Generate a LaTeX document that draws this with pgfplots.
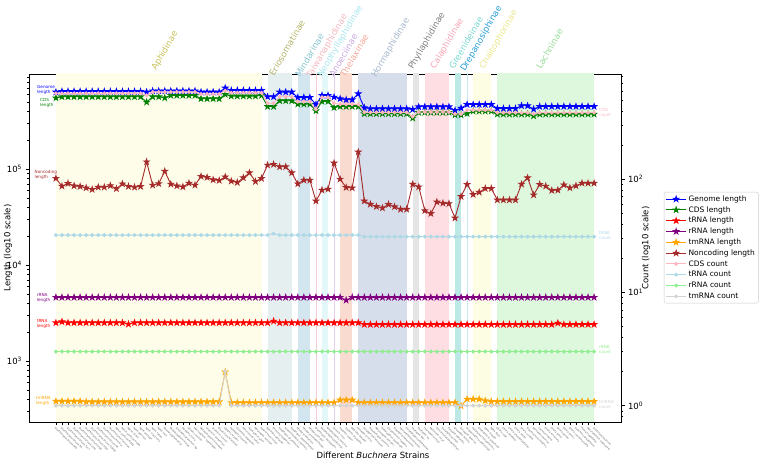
\documentclass[border=0pt]{standalone}
\usepackage{pgfplots}
\pgfplotsset{compat=1.18}
\usepackage{pgfplotstable}
\usepackage{fontspec}
\setmainfont{DejaVu Sans}

% series colours
\definecolor{cGenome}{HTML}{0000FF}
\definecolor{cCDS}{HTML}{008000}
\definecolor{cTRNA}{HTML}{FF0000}
\definecolor{cRRNA}{HTML}{800080}
\definecolor{cTMRNA}{HTML}{FFA500}
\definecolor{cNonc}{HTML}{A52A2A}
\definecolor{cCDSc}{HTML}{FFB6C1}
\definecolor{cTRNAc}{HTML}{ADD8E6}
\definecolor{cRRNAc}{HTML}{90EE90}
\definecolor{cTMRNAc}{HTML}{D3D3D3}

% subfamily shading and label colours
\definecolor{bAph}{HTML}{FDFDE9}\definecolor{tAph}{HTML}{C8C25A}
\definecolor{bEri}{HTML}{E5EFEF}\definecolor{tEri}{HTML}{B4B46C}
\definecolor{bMin}{HTML}{D3E6EF}\definecolor{tMin}{HTML}{88C4D0}
\definecolor{bTai}{HTML}{F6CCD4}\definecolor{tTai}{HTML}{F2B8C0}
\definecolor{bNeo}{HTML}{E4F8FA}\definecolor{tNeo}{HTML}{A8E6EE}
\definecolor{bAno}{HTML}{E6CCEE}\definecolor{tAno}{HTML}{C8A8E0}
\definecolor{bThe}{HTML}{FADBD0}\definecolor{tThe}{HTML}{F4A898}
\definecolor{bHor}{HTML}{D5DEEA}\definecolor{tHor}{HTML}{A8B8CE}
\definecolor{bPhy}{HTML}{E5E5E5}\definecolor{tPhy}{HTML}{808080}
\definecolor{bCal}{HTML}{FEDDE3}\definecolor{tCal}{HTML}{F5A5B5}
\definecolor{bGre}{HTML}{BCE8E6}\definecolor{tGre}{HTML}{78D8D0}
\definecolor{bDre}{HTML}{C8E8F4}\definecolor{tDre}{HTML}{2A9FD6}
\definecolor{bCha}{HTML}{FDFDE3}\definecolor{tCha}{HTML}{EAE68A}
\definecolor{bLac}{HTML}{DDF8DD}\definecolor{tLac}{HTML}{98DC98}

% filled five-pointed star marker
\pgfdeclareplotmark{fstar}{%
  \pgfpathmoveto{\pgfqpoint{0pt}{\pgfplotmarksize}}%
  \pgfpathlineto{\pgfqpoint{-0.2245\pgfplotmarksize}{0.309\pgfplotmarksize}}%
  \pgfpathlineto{\pgfqpoint{-0.951\pgfplotmarksize}{0.309\pgfplotmarksize}}%
  \pgfpathlineto{\pgfqpoint{-0.363\pgfplotmarksize}{-0.118\pgfplotmarksize}}%
  \pgfpathlineto{\pgfqpoint{-0.588\pgfplotmarksize}{-0.809\pgfplotmarksize}}%
  \pgfpathlineto{\pgfqpoint{0pt}{-0.382\pgfplotmarksize}}%
  \pgfpathlineto{\pgfqpoint{0.588\pgfplotmarksize}{-0.809\pgfplotmarksize}}%
  \pgfpathlineto{\pgfqpoint{0.363\pgfplotmarksize}{-0.118\pgfplotmarksize}}%
  \pgfpathlineto{\pgfqpoint{0.951\pgfplotmarksize}{0.309\pgfplotmarksize}}%
  \pgfpathlineto{\pgfqpoint{0.2245\pgfplotmarksize}{0.309\pgfplotmarksize}}%
  \pgfpathclose\pgfusepathqfillstroke}

% i: strain index; lengths in bp; counts
\pgfplotstableread{
i g c tl rl tml nc cc tc rc tmc
0 635000 552000 2500 4600 380 80000 570 32 3 1
1 644000 567000 2560 4600 380 66400 570 32 3 1
2 644000 567000 2500 4600 380 70800 570 32 3 1
3 644000 567000 2500 4600 380 66900 570 32 3 1
4 644000 567000 2500 4600 380 65900 570 32 3 1
5 644000 567000 2500 4600 375 63700 570 32 3 1
6 644000 567000 2500 4600 375 61300 570 32 3 1
7 644000 567000 2500 4600 375 64800 570 32 3 1
8 644000 567000 2500 4600 375 64800 570 32 3 1
9 644000 567000 2500 4600 375 67200 570 32 3 1
10 644000 567000 2500 4600 375 62500 570 32 3 1
11 644000 567000 2500 4600 375 70200 570 32 3 1
12 644000 567000 2420 4600 375 66000 570 32 3 1
13 644000 567000 2500 4600 375 64800 570 32 3 1
14 644000 567000 2500 4600 375 65900 570 32 3 1
15 635000 499000 2500 4600 375 119000 548 32 3 1
16 652000 567000 2500 4600 375 68000 586 32 3 1
17 652000 567000 2500 4600 375 70500 586 32 3 1
18 652000 553000 2500 4600 375 94900 586 32 3 1
19 652000 586000 2500 4600 375 69600 586 32 3 1
20 652000 586000 2500 4600 375 66900 586 32 3 1
21 652000 586000 2500 4600 375 65300 586 32 3 1
22 652000 586000 2500 4600 375 71300 586 32 3 1
23 652000 586000 2500 4600 375 68000 586 32 3 1
24 635000 541000 2500 4600 375 83900 563 32 3 1
25 635000 541000 2500 4600 375 81900 563 32 3 1
26 635000 541000 2500 4600 375 77300 563 32 3 1
27 635000 541000 2500 4600 375 76100 563 32 3 1
28 700000 600000 2500 4600 767 83000 601 32 3 2
29 661000 577000 2500 4600 368 74900 578 32 3 1
30 661000 577000 2500 4600 368 72600 578 32 3 1
31 661000 577000 2500 4600 368 81100 578 32 3 1
32 661000 577000 2500 4600 368 91500 578 32 3 1
33 661000 577000 2500 4600 368 74300 578 32 3 1
34 661000 586000 2500 4600 368 79900 578 32 3 1
35 567000 449000 2500 4600 368 110100 466 32 3 1
36 567000 449000 2600 4600 368 112000 466 33 3 1
37 635000 515000 2500 4600 368 105700 532 32 3 1
38 635000 515000 2500 4600 368 105700 532 32 3 1
39 635000 515000 2500 4600 368 91500 532 32 3 1
40 558000 476000 2500 4600 368 70200 481 32 3 1
41 558000 476000 2500 4600 368 76700 481 32 3 1
42 558000 476000 2500 4600 368 76700 481 32 3 1
43 471000 405000 2500 4600 368 46500 412 32 3 1
44 586000 507000 2500 4600 368 60300 526 32 3 1
45 586000 507000 2500 4600 368 61800 526 32 3 1
46 563000 438000 2500 4600 368 115600 466 32 3 1
47 541000 449000 2500 4600 392 78600 456 32 3 1
48 528000 449000 2500 4300 392 64300 456 32 3 1
49 528000 449000 2500 4600 392 63700 456 32 3 1
50 610000 449000 2500 4600 368 150700 456 32 3 1
51 436000 378000 2400 4600 368 46500 387 31 3 1
52 425000 378000 2400 4600 368 43000 387 31 3 1
53 425000 378000 2400 4600 368 40700 387 31 3 1
54 425000 378000 2400 4600 368 39300 387 31 3 1
55 425000 378000 2400 4600 368 42800 387 31 3 1
56 425000 378000 2400 4600 368 40500 387 31 3 1
57 425000 378000 2400 4600 368 38100 387 31 3 1
58 425000 378000 2400 4600 368 38100 387 31 3 1
59 418000 340000 2400 4600 368 69600 355 31 3 1
60 446000 389000 2400 4600 368 65300 390 31 3 1
61 446000 389000 2400 4600 368 36900 390 31 3 1
62 446000 389000 2400 4600 368 34400 390 31 3 1
63 446000 389000 2400 4600 368 45400 390 31 3 1
64 446000 389000 2400 4600 368 44100 390 31 3 1
65 446000 389000 2400 4600 368 43700 390 31 3 1
66 408000 367000 2400 4600 368 30900 375 31 3 1
67 432000 367000 2400 4600 340 51800 375 31 3 1
68 471000 379000 2400 4600 400 69200 406 31 3 1
69 471000 402000 2400 4600 400 54300 406 31 3 1
70 471000 402000 2400 4600 400 57400 406 31 3 1
71 471000 402000 2400 4600 385 62800 406 31 3 1
72 471000 402000 2400 4600 378 62800 406 31 3 1
73 428000 374000 2400 4600 378 47700 385 31 3 1
74 428000 374000 2400 4600 378 47700 385 31 3 1
75 428000 374000 2400 4600 378 47700 385 31 3 1
76 428000 374000 2400 4600 378 47700 385 31 3 1
77 457000 374000 2400 4600 378 69600 385 31 3 1
78 457000 374000 2400 4600 378 81100 385 31 3 1
79 422000 359000 2400 4600 378 53800 375 31 3 1
80 449000 374000 2400 4600 378 69200 385 31 3 1
81 449000 374000 2400 4600 378 66400 385 31 3 1
82 449000 374000 2400 4600 378 59900 385 31 3 1
83 449000 374000 2480 4600 378 60300 385 31 3 1
84 449000 374000 2400 4600 378 68500 385 31 3 1
85 449000 374000 2400 4600 378 63700 385 31 3 1
86 449000 374000 2400 4600 378 66900 385 31 3 1
87 449000 374000 2400 4600 378 71300 385 31 3 1
88 449000 374000 2400 4600 378 71300 385 31 3 1
89 449000 374000 2400 4600 378 71300 385 31 3 1
}\strains

\pgfplotsset{
  lenline/.style={line width=0.9pt, mark=fstar, mark size=2.8pt},
  cntline/.style={line width=0.9pt, mark=*, mark size=1.5pt},
  powten/.style={yticklabel={\pgfmathtruncatemacro{\ex}{round(\tick/2.302585093)}10\textsuperscript{\ex}}},
  band/.style={draw=none, forget plot},
}

\begin{document}
\begin{tikzpicture}[x=1pt,y=1pt]
\useasboundingbox (0,0) rectangle (760,470);

% ---------- lengths (left axis) ----------
\begin{axis}[
  at={(29pt,48pt)}, anchor=south west,
  scale only axis, width=592pt, height=348pt,
  xmin=-4.45, xmax=93.45,
  ymode=log, ymin=231, ymax=9.8e5,
  tick pos=left, tick align=outside,
  major tick length=3.5pt, minor tick length=2pt,
  tick style={black, line width=0.5pt},
  axis line style={line width=0.6pt},
  xtick={0,...,89},
  xticklabels={
    Acyrthosiphon pisum APS, Acyrthosiphon pisum 5A,
    Acyrthosiphon pisum Tuc7, Acyrthosiphon pisum LL01,
    Acyrthosiphon pisum JF98, Acyrthosiphon pisum JF99,
    Acyrthosiphon pisum TLW03, Acyrthosiphon pisum Ak,
    Acyrthosiphon kondoi, Acyrthosiphon lactucae,
    Myzus persicae G002, Myzus persicae USDA,
    Myzus cerasi, Aphis glycines,
    Aphis gossypii, Aphis craccivora,
    Aphis fabae, Aphis nerii,
    Rhopalosiphum padi, Rhopalosiphum maidis,
    Schizaphis graminum Sg, Diuraphis noxia,
    Sitobion avenae, Macrosiphum euphorbiae,
    Metopolophium dirhodum, Uroleucon ambrosiae,
    Uroleucon sonchi, Brevicoryne brassicae,
    Lipaphis erysimi, Hyadaphis foeniculi,
    Cavariella aegopodii, Pterocomma salicis,
    Hyalopterus pruni, Melanaphis sacchari,
    Aulacorthum solani,
    Baizongia pistaciae, Eriosoma lanigerum,
    Pemphigus spyrothecae, Schlechtendalia chinensis,
    Pemphigus obesinymphae,
    Mindarus abietinus, Mindarus keteleerifoliae,
    Mindarus kinseyi,
    Taiwanaphis decaspermi,
    Neophyllaphis podocarpi, Neophyllaphis varicolor,
    Anoecia corni,
    Thelaxes suberi, Thelaxes dryophila,
    Glyphina betulae,
    Hormaphis cornu, Cerataphis brasiliensis,
    Pseudoregma panicola, Nipponaphis monzeni,
    Astegopteryx bambusae, Ceratovacuna lanigera,
    Tuberaphis takenouchii, Hamamelistes spinosus,
    Ceratoglyphina bambusae,
    Phyllaphis fagi, Phyllaphis sp.,
    Therioaphis trifolii, Myzocallis coryli,
    Tinocallis kahawaluokalani, Eucallipterus tiliae,
    Panaphis juglandis,
    Greenidea ficicola, Cervaphis quercus,
    Drepanosiphum platanoidis,
    Periphyllus testudinaceus, Chaitophorus populicola,
    Sipha maydis, Sipha flava,
    Cinara cedri, Cinara tujafilina,
    Cinara pseudotaxifoliae, Cinara strobi,
    Cinara confinis, Tuberolachnus salignus,
    Stomaphis quercus, Lachnus roboris,
    Cinara fornacula, Cinara pinea,
    Cinara piceae, Cinara laricis,
    Cinara cuneomaculata, Eulachnus brevipilosus,
    Trama troglodytes, Maculolachnus submacula,
    Schizolachnus pineti},
  x tick label style={font=\fontsize{2.4}{2.8}\selectfont, rotate=-45,
    anchor=north west, inner sep=0.8pt, text=black!70},
  y tick label style={font=\fontsize{8.5}{10}\selectfont},
  powten,
  ylabel={Length (log10 scale)},
  ylabel style={font=\fontsize{8.5}{10}\selectfont,
    at={(axis description cs:-0.0355,0.5)}, anchor=center},
  xlabel={Different \textit{Buchnera} Strains},
  xlabel style={font=\fontsize{8.5}{10}\selectfont,
    at={(axis description cs:0.581,-0.085)}, anchor=north, inner sep=0pt},
]
% subfamily spans
\addplot[band, fill=bAph] coordinates {(0,200) (34,200) (34,2e6) (0,2e6)} -- cycle;
\addplot[band, fill=bEri] coordinates {(35,200) (39,200) (39,2e6) (35,2e6)} -- cycle;
\addplot[band, fill=bMin] coordinates {(40,200) (42,200) (42,2e6) (40,2e6)} -- cycle;
\addplot[forget plot, draw=bTai, line width=0.5pt] coordinates {(43,200) (43,2e6)};
\addplot[band, fill=bNeo] coordinates {(44,200) (45,200) (45,2e6) (44,2e6)} -- cycle;
\addplot[forget plot, draw=bAno, line width=0.5pt] coordinates {(46,200) (46,2e6)};
\addplot[band, fill=bThe] coordinates {(47,200) (49,200) (49,2e6) (47,2e6)} -- cycle;
\addplot[band, fill=bHor] coordinates {(50,200) (58,200) (58,2e6) (50,2e6)} -- cycle;
\addplot[band, fill=bPhy] coordinates {(59,200) (60,200) (60,2e6) (59,2e6)} -- cycle;
\addplot[band, fill=bCal] coordinates {(61,200) (65,200) (65,2e6) (61,2e6)} -- cycle;
\addplot[band, fill=bGre] coordinates {(66,200) (67,200) (67,2e6) (66,2e6)} -- cycle;
\addplot[forget plot, draw=bDre, line width=0.5pt] coordinates {(68,200) (68,2e6)};
\addplot[band, fill=bCha] coordinates {(69,200) (72,200) (72,2e6) (69,2e6)} -- cycle;
\addplot[band, fill=bLac] coordinates {(73,200) (89,200) (89,2e6) (73,2e6)} -- cycle;

\addplot[lenline, color=cGenome] table[x=i, y=g] {\strains};
\addplot[lenline, color=cCDS] table[x=i, y=c] {\strains};
\addplot[lenline, color=cTRNA] table[x=i, y=tl] {\strains};
\addplot[lenline, color=cRRNA] table[x=i, y=rl] {\strains};
\addplot[lenline, color=cTMRNA] table[x=i, y=tml] {\strains};
\addplot[lenline, color=cNonc] table[x=i, y=nc] {\strains};
\end{axis}

% ---------- counts (right axis) ----------
\begin{axis}[
  at={(29pt,48pt)}, anchor=south west,
  scale only axis, width=592pt, height=348pt,
  xmin=-4.45, xmax=93.45,
  ymode=log, ymin=0.717, ymax=845,
  axis x line=none, axis y line*=right,
  tick align=outside,
  major tick length=3.5pt, minor tick length=2pt,
  tick style={black, line width=0.5pt},
  axis line style={line width=0.6pt},
  y tick label style={font=\fontsize{8.5}{10}\selectfont},
  powten,
  ylabel={Count (log10 scale)},
  ylabel style={font=\fontsize{8.5}{10}\selectfont,
    at={(axis description cs:1.0422,0.5)}, anchor=center},
  legend cell align=left,
  legend image code/.code={\draw[mark repeat=2, mark phase=2]
    plot coordinates {(0pt,0pt) (10pt,0pt) (20pt,0pt)};},
  legend style={at={(1.0726,0.6609)}, anchor=north west,
    font=\fontsize{7.5}{9}\selectfont, draw=black!20, fill=white,
    rounded corners=2pt, row sep=0pt, inner sep=1.5pt,
    nodes={text height=6pt, text depth=1.6pt, inner ysep=1.6pt}},
]
\addlegendimage{lenline, color=cGenome}\addlegendentry{Genome length}
\addlegendimage{lenline, color=cCDS}\addlegendentry{CDS length}
\addlegendimage{lenline, color=cTRNA}\addlegendentry{tRNA length}
\addlegendimage{lenline, color=cRRNA}\addlegendentry{rRNA length}
\addlegendimage{lenline, color=cTMRNA}\addlegendentry{tmRNA length}
\addlegendimage{lenline, color=cNonc}\addlegendentry{Noncoding length}
\addplot[cntline, color=cCDSc] table[x=i, y=cc] {\strains};
\addlegendentry{CDS count}
\addplot[cntline, color=cTRNAc] table[x=i, y=tc] {\strains};
\addlegendentry{tRNA count}
\addplot[cntline, color=cRRNAc] table[x=i, y=rc] {\strains};
\addlegendentry{rRNA count}
\addplot[cntline, color=cTMRNAc] table[x=i, y=tmc] {\strains};
\addlegendentry{tmRNA count}
\end{axis}

% ---------- subfamily names ----------
\begin{scope}[every node/.style={rotate=60, anchor=base west, inner sep=0pt,
    font=\fontsize{8.7}{10}\selectfont}]
\node[text=tAph] at (156,399) {Aphidinae};
\node[text=tEri] at (274,393) {Eriosomatinae};
\node[text=tMin] at (300,392) {Mindarinae};
\node[text=tTai] at (311,391) {Taiwanaphidinae};
\node[text=tNeo] at (322,392) {Neophyllaphidinae};
\node[text=tAno] at (334,392) {Anoeciinae};
\node[text=tThe] at (345,392) {Thelaxinae};
\node[text=tHor] at (376,392) {Hormaphidinae};
\node[text=tPhy] at (413,400) {Phyllaphidinae};
\node[text=tCal] at (435,400) {Calaphidinae};
\node[text=tGre] at (454,400) {Greenideinae};
\node[text=tDre] at (465,398) {Drepanosiphinae};
\node[text=tCha] at (484,400) {Chaitophorinae};
\node[text=tLac] at (541,400) {Lachninae};
\end{scope}

% ---------- series tags beside the lines ----------
\begin{scope}[every node/.style={anchor=west, align=left, inner sep=0pt,
    font=\fontsize{4.2}{5}\selectfont}]
\node[text=cGenome] at (37,380) {Genome\\length};
\node[text=cCDS] at (40,367) {CDS\\length};
\node[text=cNonc] at (34.5,295.5) {Noncoding\\length};
\node[text=cRRNA] at (36.7,172) {rRNA\\length};
\node[text=cTRNA] at (36.7,146.5) {tRNA\\length};
\node[text=cTMRNA] at (36,69) {tmRNA\\length};
\node[text=cCDSc] at (599,358) {CDS\\count};
\node[text=cTRNAc] at (599,234) {tRNA\\count};
\node[text=cRRNAc] at (599,120) {rRNA\\count};
\node[text=cTMRNAc] at (599,65) {tmRNA\\count};
\end{scope}
\end{tikzpicture}
\end{document}
